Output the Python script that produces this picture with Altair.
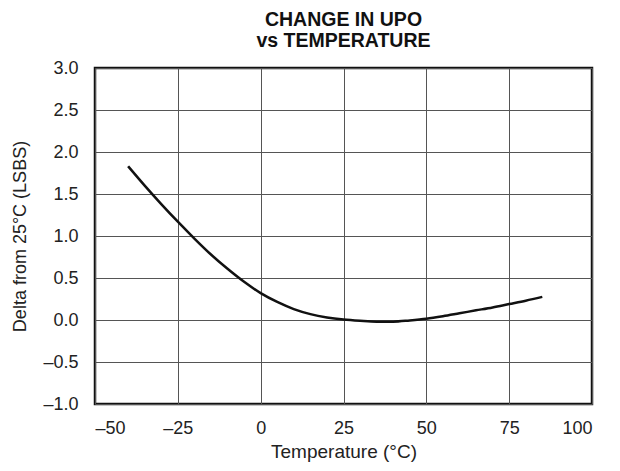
import altair as alt
import pandas as pd

temps = [-40, -35, -30, -25, -20, -15, -10, -5, 0, 5, 10, 15, 20, 25, 30, 35, 40, 45, 50, 55, 60, 65, 70, 75, 80, 85]
delta = [1.83, 1.60, 1.38, 1.17, 0.97, 0.78, 0.61, 0.455, 0.32, 0.215, 0.13, 0.07, 0.03, 0.005, -0.01, -0.02, -0.02, -0.005, 0.015, 0.045, 0.08, 0.115, 0.15, 0.19, 0.23, 0.275]

x_ticks = [-50, -25, 0, 25, 50, 75, 100]
y_ticks = [-1.0, -0.5, 0.0, 0.5, 1.0, 1.5, 2.0, 2.5, 3.0]

df = pd.DataFrame({"t": temps, "d": delta})

font = "Liberation Sans"

chart = alt.Chart(df).mark_line(color="#111111", strokeWidth=2.5, interpolate="monotone").encode(
    x=alt.X("t:Q", scale=alt.Scale(domain=[-50, 100], nice=False),
            axis=alt.Axis(values=x_ticks, title="Temperature (°C)",
                          labelExpr="datum.value < 0 ? '–' + format(-datum.value, 'd') : format(datum.value, 'd')",
                          labelPadding=15, titlePadding=5, titleFontSize=19)),
    y=alt.Y("d:Q", scale=alt.Scale(domain=[-1, 3], nice=False),
            axis=alt.Axis(values=y_ticks, title="Delta from 25°C (LSBS)",
                          labelExpr="datum.value < 0 ? '–' + format(-datum.value, '.1f') : format(datum.value, '.1f')",
                          labelPadding=17, titlePadding=13)),
).properties(
    width=497, height=336,
    title=alt.TitleParams(["CHANGE IN UPO", "vs TEMPERATURE"], font=font, fontSize=19.5,
                          fontWeight="bold", color="#111111", lineHeight=21, offset=8, anchor="middle"),
    autosize="none",
    padding={"left": 87, "top": 60, "right": 20, "bottom": 59},
).configure_axis(
    labelFont=font, titleFont=font, labelFontSize=18, titleFontSize=18,
    labelColor="#222222", titleColor="#222222", titleFontWeight="normal",
    domain=False, ticks=False, grid=True, gridColor="#555555", gridWidth=1, gridOpacity=1,
).configure_view(stroke="#111111", strokeWidth=2.5)

chart.save("out.html", embed_options={"renderer": "svg", "actions": False})
